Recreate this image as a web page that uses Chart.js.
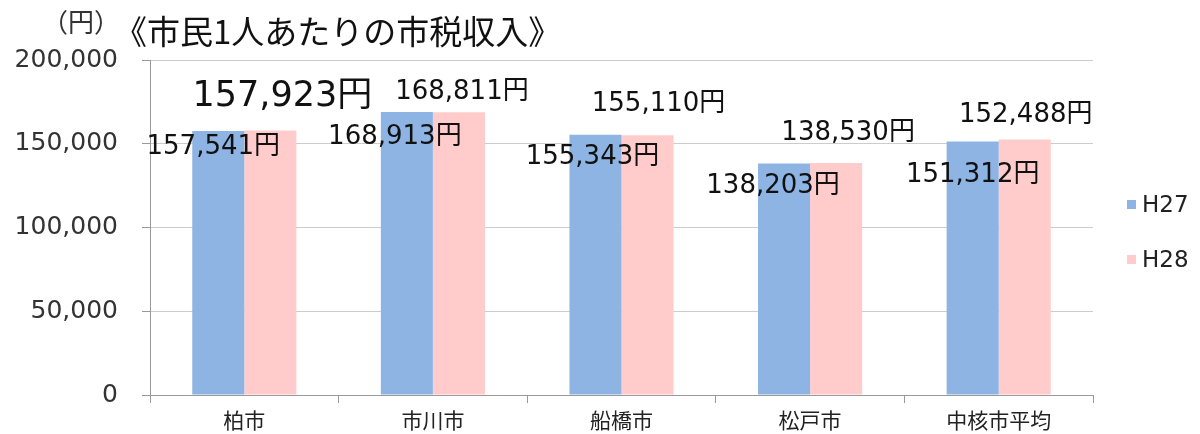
<!DOCTYPE html>
<html lang="ja">
<head>
    <meta charset="UTF-8">
    <title>市民1人あたりの市税収入</title>
    <script src="https://cdn.jsdelivr.net/npm/chart.js"></script>
    <style>
        body {
            margin: 0;
            background: #ffffff;
        }
        .wrap {
            width: 1200px;
            height: 434px;
            position: relative;
        }
    </style>
</head>
<body>
    <div class="wrap">
        <canvas id="chart"></canvas>
    </div>

    <script>
        const cities = ['柏市', '市川市', '船橋市', '松戸市', '中核市平均'];
        const h27 = [157541, 168913, 155343, 138203, 151312];
        const h28 = [157923, 168811, 155110, 138530, 152488];
        const seriesNames = ['H27', 'H28'];
        const yTicks = [0, 50000, 100000, 150000, 200000];

        const blue = '#8EB4E3';
        const pink = '#FFCBCB';
        const numFont = '"DejaVu Sans", "Noto Sans CJK JP", sans-serif';
        const jpFont = '"Noto Sans CJK JP", sans-serif';

        // hand placed value labels, offsets from the top centre of each bar
        const labelOffsets = [
            [[-5, 16], [-12, 25], [-3, 22], [-11, 23], [0, 34]],
            [[12, -34], [3, -20], [11, -31], [12, -30], [1, -24]]
        ];
        const labelSizes = [
            [26, 26, 26, 26, 26],
            [35, 26, 26, 26, 26]
        ];

        const fmt = v => v.toLocaleString('en-US');

        const extras = {
            id: 'extras',
            afterDatasetsDraw(chart) {
                const ctx = chart.ctx;
                ctx.save();
                ctx.fillStyle = '#111';
                ctx.textAlign = 'center';
                ctx.textBaseline = 'middle';
                chart.data.datasets.forEach((ds, i) => {
                    chart.getDatasetMeta(i).data.forEach((bar, j) => {
                        const off = labelOffsets[i][j];
                        ctx.font = labelSizes[i][j] + 'px ' + numFont;
                        ctx.fillText(fmt(ds.data[j]) + '円', bar.x + off[0], bar.y + off[1]);
                    });
                });

                // unit and title
                ctx.font = '26px ' + jpFont;
                ctx.fillStyle = '#333';
                ctx.fillText('（円）', 81, 22);
                ctx.textAlign = 'left';
                ctx.font = '33px ' + jpFont;
                ctx.fillStyle = '#111';
                ctx.fillText('《市民1人あたりの市税収入》', 114, 31);

                // legend
                const colors = [blue, pink];
                const ys = [205, 260];
                ctx.font = '23px ' + numFont;
                seriesNames.forEach((name, i) => {
                    ctx.fillStyle = colors[i];
                    ctx.fillRect(1127, ys[i] - 5, 9, 9);
                    ctx.fillStyle = '#222';
                    ctx.fillText(name, 1142, ys[i] + 1);
                });
                ctx.restore();
            }
        };

        new Chart(document.getElementById('chart'), {
            type: 'bar',
            data: {
                labels: cities,
                datasets: [
                    { label: seriesNames[0], data: h27, backgroundColor: blue },
                    { label: seriesNames[1], data: h28, backgroundColor: pink }
                ]
            },
            options: {
                responsive: true,
                maintainAspectRatio: false,
                animation: false,
                categoryPercentage: 0.552,
                barPercentage: 1,
                layout: { padding: { top: 60, right: 107, left: 0, bottom: 0 } },
                plugins: {
                    legend: { display: false },
                    tooltip: { enabled: false }
                },
                scales: {
                    x: {
                        grid: {
                            drawOnChartArea: false,
                            tickLength: 8,
                            color: '#999'
                        },
                        border: { color: '#999' },
                        ticks: {
                            font: { family: jpFont, size: 21 },
                            color: '#222',
                            padding: 4
                        },
                        afterFit(scale) { scale.height = 38; }
                    },
                    y: {
                        min: 0,
                        max: 200000,
                        afterBuildTicks(scale) {
                            scale.ticks = yTicks.map(v => ({ value: v }));
                        },
                        grid: {
                            color: '#cccccc',
                            tickColor: '#999',
                            tickLength: 8
                        },
                        border: { color: '#999' },
                        ticks: {
                            font: { family: numFont, size: 25 },
                            color: '#333',
                            padding: 24,
                            callback: v => fmt(v)
                        },
                        afterFit(scale) { scale.width = 150; }
                    }
                }
            },
            plugins: [extras]
        });
    </script>
</body>
</html>
